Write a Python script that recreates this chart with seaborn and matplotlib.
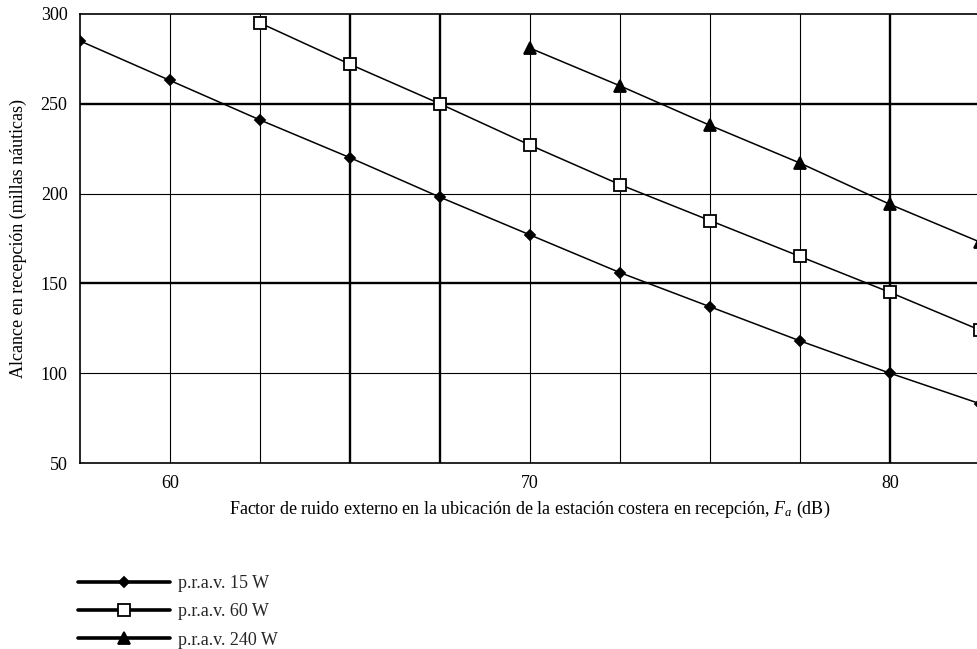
import numpy as np
import pandas as pd
import seaborn as sns
from matplotlib import pyplot as plt
from matplotlib.lines import Line2D

# Fa (dB) y alcance (millas náuticas) por potencia
fa_15 = [57.5, 60, 62.5, 65, 67.5, 70, 72.5, 75, 77.5, 80, 82.5]
alc_15 = [285, 263, 241, 220, 198, 177, 156, 137, 118, 100, 83]
fa_60 = [62.5, 65, 67.5, 70, 72.5, 75, 77.5, 80, 82.5]
alc_60 = [295, 272, 250, 227, 205, 185, 165, 145, 124]
fa_240 = [70, 72.5, 75, 77.5, 80, 82.5]
alc_240 = [281, 260, 238, 217, 194, 173]
labels = ['p.r.a.v. 15 W', 'p.r.a.v. 60 W', 'p.r.a.v. 240 W']

sns.set_theme(style='white')
plt.rcParams['font.family'] = ['Liberation Serif', 'DejaVu Serif']
plt.rcParams['mathtext.fontset'] = 'custom'
plt.rcParams['mathtext.it'] = 'Liberation Serif:italic'
plt.rcParams['mathtext.rm'] = 'Liberation Serif'

FS = 13

fig = plt.figure(figsize=(9.77, 6.49), dpi=100)
ax = fig.add_axes([80 / 977, 186 / 649, 900 / 977, 449 / 649])

# grid: thin and thick lines like the original
for x in [60, 62.5, 70, 72.5, 75, 77.5]:
    ax.axvline(x, color='black', lw=0.8, zorder=1)
for x in [65, 67.5, 80]:
    ax.axvline(x, color='black', lw=1.7, zorder=1)
for y in [100, 200]:
    ax.axhline(y, color='black', lw=0.8, zorder=1)
for y in [150, 250]:
    ax.axhline(y, color='black', lw=1.7, zorder=1)

series = [(fa_15, alc_15, 'D', 5.5, 'black'),
          (fa_60, alc_60, 's', 8.5, 'white'),
          (fa_240, alc_240, '^', 9, 'black')]
for xs, ys, mk, ms, fc in series:
    df = pd.DataFrame({'fa': xs, 'alcance': ys})
    sns.lineplot(data=df, x='fa', y='alcance', ax=ax, color='black', lw=1.1,
                 marker=mk, markersize=ms, markerfacecolor=fc,
                 markeredgecolor='black', markeredgewidth=1.3, zorder=3)

ax.set_xlim(57.5, 82.5)
ax.set_ylim(50, 300)
ax.set_xticks([60, 70, 80])
ax.set_yticks([50, 100, 150, 200, 250, 300])
ax.tick_params(length=0, labelsize=FS, colors='black')
ax.tick_params(axis='y', pad=9)
ax.tick_params(axis='x', pad=8.5)
for s in ax.spines.values():
    s.set_color('black')
    s.set_linewidth(1.2)

ax.set_xlabel('Factor de ruido externo en la ubicación de la estación costera en recepción, $F_a$ (dB)',
              fontsize=FS, color='black', labelpad=5)
ax.set_ylabel('Alcance en recepción (millas náuticas)', fontsize=FS, color='black', labelpad=10)

handles = [Line2D([], [], color='black', lw=2.6, marker=mk, markersize=ms,
                  markerfacecolor=fc, markeredgecolor='black', markeredgewidth=1.3)
           for _, _, mk, ms, fc in series]
fig.legend(handles, labels, loc='upper left', bbox_to_anchor=(78 / 977, 1 - 575 / 649),
           frameon=False, fontsize=FS, handlelength=5.1, handletextpad=0.45,
           labelspacing=0.63, borderaxespad=0, borderpad=0)

fig.savefig('out.png', dpi=100)
